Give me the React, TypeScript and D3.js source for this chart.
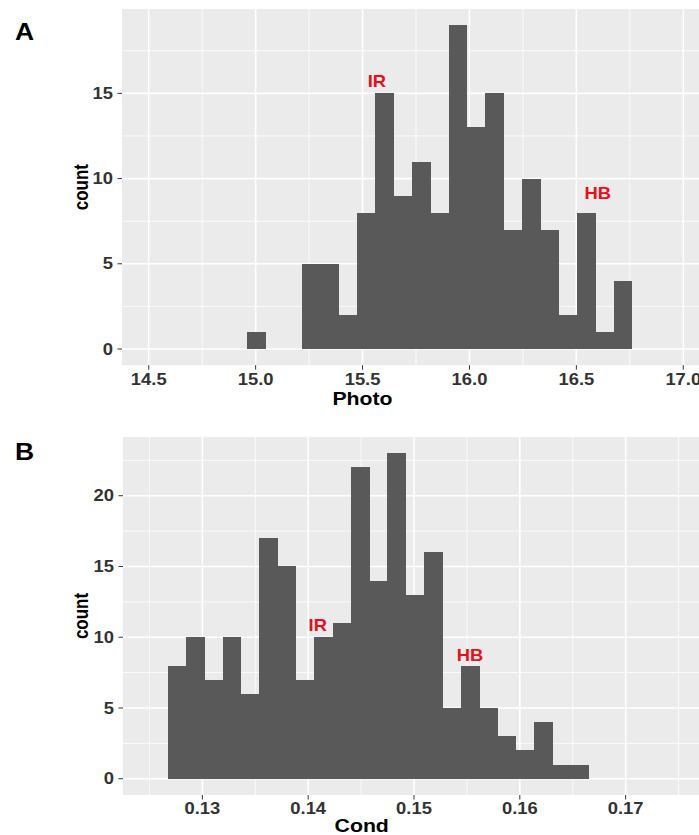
import React from "react";
import * as d3 from "d3";

// ---- Data ----
const photoCounts = [1, 0, 0, 5, 5, 2, 8, 15, 9, 11, 8, 19, 13, 15, 7, 10, 7, 2, 8, 1, 4];
const photoBinStart = 14.96;
const photoBinWidth = 0.0857;
const photoTicks = [14.5, 15.0, 15.5, 16.0, 16.5, 17.0];
const photoLimits = [14.5, 17.0];
const photoYTicks = [0, 5, 10, 15];
const photoLabels = [
  { text: "IR", x: 15.567, y: 15.7 },
  { text: "HB", x: 16.6, y: 9.1 },
];

const condCounts = [8, 10, 7, 10, 6, 17, 15, 7, 10, 11, 22, 14, 23, 13, 16, 5, 8, 5, 3, 2, 4, 1, 1];
const condBinStart = 0.12672;
const condBinWidth = 0.001731;
const condTicks = [0.13, 0.14, 0.15, 0.16, 0.17];
const condLimits = [0.125, 0.175];
const condYTicks = [0, 5, 10, 15, 20];
const condLabels = [
  { text: "IR", x: 0.14091, y: 10.8 },
  { text: "HB", x: 0.15529, y: 8.74 },
];

const FONT = "'Liberation Sans', Arial, Helvetica, sans-serif";
const SX = 1.15;

function SText({ x, y, size, anchor = "middle", fill = "#000", rotate = 0, children, baseline }: any) {
  const t = rotate
    ? `translate(${x},${y}) scale(${SX},1) rotate(${rotate})`
    : `translate(${x},${y}) scale(${SX},1)`;
  return (
    <text
      transform={t}
      fontFamily={FONT}
      fontWeight="bold"
      fontSize={size}
      textAnchor={anchor}
      fill={fill}
      dominantBaseline={baseline}
    >
      {children}
    </text>
  );
}

function Panel({
  counts, binStart, binWidth, xTicks, xLimits, yTicks, labels,
  left, right, top, bottom, xTitle, xTitleX, xFormat, tag, tagY, titleY, tickLabelY,
}: any) {
  const maxC = d3.max(counts) as number;
  const yExp = maxC * 0.05;
  const y = d3.scaleLinear().domain([-yExp, maxC + yExp]).range([bottom, top]);
  const xr = xLimits[1] - xLimits[0];
  const x = d3.scaleLinear().domain([xLimits[0] - xr * 0.05, xLimits[1] + xr * 0.05]).range([left, right]);

  const step = xTicks[1] - xTicks[0];
  const xMinor: number[] = [];
  for (let i = 0; i < xTicks.length + 1; i++) {
    const v = xTicks[0] - step / 2 + i * step;
    if (v > x.domain()[0] && v < x.domain()[1]) xMinor.push(v);
  }
  const ystep = yTicks[1] - yTicks[0];
  const yMinor: number[] = [];
  for (let i = 0; i < yTicks.length + 1; i++) {
    const v = yTicks[0] + ystep / 2 + i * ystep;
    if (v < y.domain()[1]) yMinor.push(v);
  }

  const bars = counts.map((c: number, i: number) => ({
    x0: binStart + i * binWidth,
    x1: binStart + (i + 1) * binWidth,
    c,
  }));

  return (
    <g>
      <rect x={left} y={top} width={right - left} height={bottom - top} fill="#EBEBEB" />
      {xMinor.map((v) => (
        <line key={"xm" + v} x1={x(v)} x2={x(v)} y1={top} y2={bottom} stroke="#fff" strokeWidth={0.8} />
      ))}
      {yMinor.map((v) => (
        <line key={"ym" + v} x1={left} x2={right} y1={y(v)} y2={y(v)} stroke="#fff" strokeWidth={0.8} />
      ))}
      {xTicks.map((v: number) => (
        <line key={"xM" + v} x1={x(v)} x2={x(v)} y1={top} y2={bottom} stroke="#fff" strokeWidth={1.6} />
      ))}
      {yTicks.map((v: number) => (
        <line key={"yM" + v} x1={left} x2={right} y1={y(v)} y2={y(v)} stroke="#fff" strokeWidth={1.6} />
      ))}
      <g shapeRendering="crispEdges">
        {bars.filter((b: any) => b.c > 0).map((b: any, i: number) => (
          <rect
            key={"b" + i}
            x={x(b.x0)}
            width={x(b.x1) - x(b.x0) + 0.5}
            y={y(b.c)}
            height={y(0) - y(b.c)}
            fill="#595959"
          />
        ))}
      </g>
      {labels.map((l: any) => (
        <SText key={l.text} x={x(l.x)} y={y(l.y)} size={16} fill="#E8101A" baseline="central">
          {l.text}
        </SText>
      ))}
      {yTicks.map((v: number) => (
        <g key={"yt" + v}>
          <line x1={left - 4.5} x2={left} y1={y(v)} y2={y(v)} stroke="#333" strokeWidth={1} />
          <SText x={left - 9} y={y(v) + 5.7} size={16} anchor="end" fill="#333">
            {String(v)}
          </SText>
        </g>
      ))}
      {xTicks.map((v: number) => (
        <g key={"xt" + v}>
          <line x1={x(v)} x2={x(v)} y1={bottom} y2={bottom + 4.5} stroke="#333" strokeWidth={1} />
          <SText x={x(v)} y={tickLabelY} size={16} fill="#333">
            {xFormat(v)}
          </SText>
        </g>
      ))}
      <SText x={xTitleX} y={titleY} size={18.5}>
        {xTitle}
      </SText>
      <SText x={88} y={(top + bottom) / 2} size={17} rotate={-90}>
        count
      </SText>
      <SText x={15} y={tagY} size={23} anchor="start">
        {tag}
      </SText>
    </g>
  );
}

export default function App() {
  return (
    <svg
      width={699}
      height={835}
      style={{ position: "absolute", left: 0, top: 0, background: "#fff" }}
    >
      <rect width={699} height={835} fill="#fff" />
      <Panel
        counts={photoCounts}
        binStart={photoBinStart}
        binWidth={photoBinWidth}
        xTicks={photoTicks}
        xLimits={photoLimits}
        yTicks={photoYTicks}
        labels={photoLabels}
        left={122}
        right={710}
        top={9}
        bottom={365.2}
        xTitle="Photo"
        xTitleX={362.5}
        xFormat={(v: number) => d3.format(".1f")(v)}
        tag="A"
        tagY={39.5}
        titleY={405}
        tickLabelY={384.7}
      />
      <Panel
        counts={condCounts}
        binStart={condBinStart}
        binWidth={condBinWidth}
        xTicks={condTicks}
        xLimits={condLimits}
        yTicks={condYTicks}
        labels={condLabels}
        left={123}
        right={705}
        top={437}
        bottom={795}
        xTitle="Cond"
        xTitleX={361.7}
        xFormat={(v: number) => d3.format(".2f")(v)}
        tag="B"
        tagY={459.5}
        titleY={831.5}
        tickLabelY={814}
      />
    </svg>
  );
}
